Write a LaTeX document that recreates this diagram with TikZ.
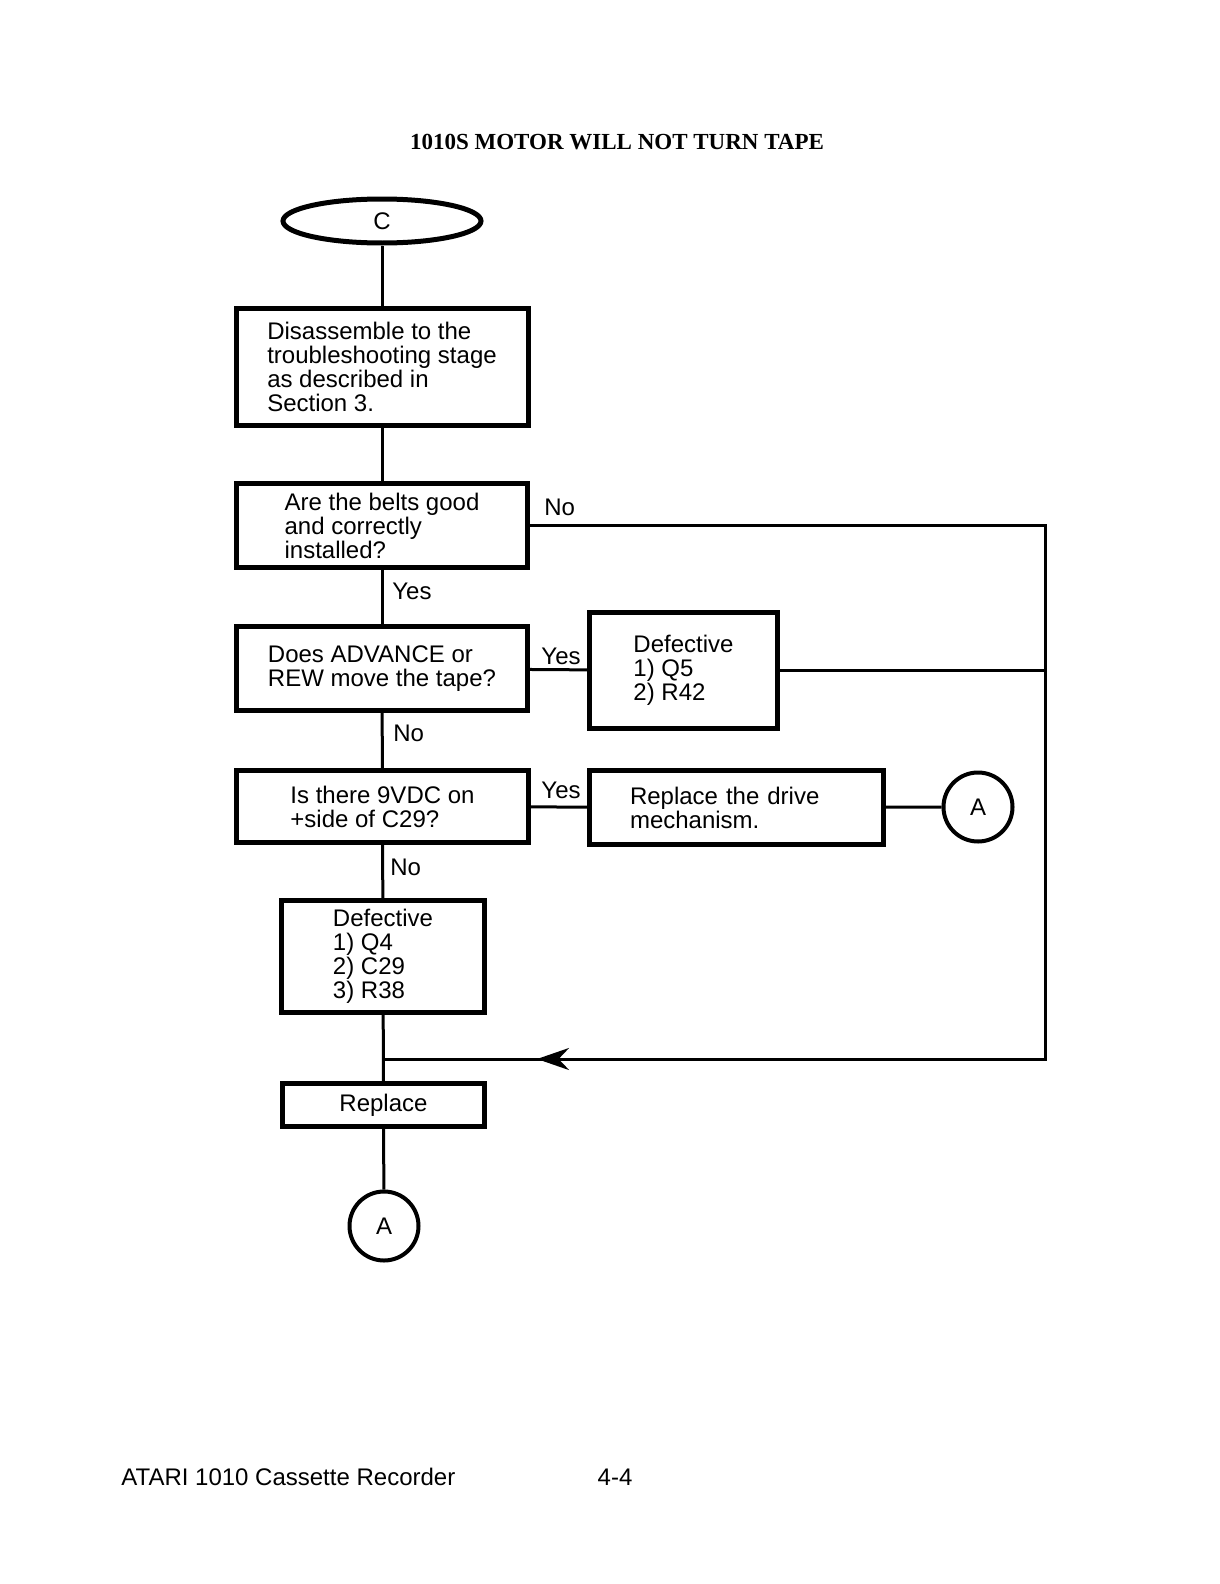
\documentclass[tikz,border=0pt]{standalone}
\usepackage{fontspec}
\setmainfont{Liberation Sans}
\newfontfamily\titlefont{Liberation Serif}
\usetikzlibrary{shapes.geometric,arrows.meta}

\begin{document}
\begin{tikzpicture}[x=0.5pt,y=-0.5pt,font=\fontsize{12}{12}\selectfont]

      \useasboundingbox (0,0) rectangle (1220,1584);

      \node (title) at (617,142) {\titlefont\bfseries\fontsize{11.5}{12}\selectfont 1010S MOTOR WILL NOT TURN TAPE};

      \begin{scope}[every node/.style={draw, line width=2.5pt, align=left, inner sep=0pt}]
        \node[ellipse, minimum width=99pt, minimum height=22pt] (0) at (382,221) {C};
        \node[minimum width=146pt, minimum height=58.5pt] (1) at (382,367) {Disassemble to the\\troubleshooting stage\\as described in\\Section 3.};
        \node[minimum width=145.5pt, minimum height=42pt] (2) at (382,525.5) {Are the belts good\\and correctly\\installed?};
        \node[minimum width=145.5pt, minimum height=42pt] (3) at (382,668.5) {Does ADVANCE or\\REW move the tape?};
        \node[minimum width=94pt, minimum height=58pt] (4) at (683.5,670.5) {Defective\\1) Q5\\2) R42};
        \node[minimum width=146pt, minimum height=36pt] (5) at (382.5,806.5) {Is there 9VDC on\\+side of C29?};
        \node[minimum width=147pt, minimum height=37pt, text width=106.5pt] (6) at (736.5,807.5) {Replace the drive\\mechanism.};
        \node[circle, line width=2pt, minimum size=34.5pt] (7) at (978,807) {A};
        \node[minimum width=101.5pt, minimum height=56pt] (8) at (383,956.5) {Defective\\1) Q4\\2) C29\\3) R38};
        \node[minimum width=101pt, minimum height=21.5pt] (9) at (383.5,1105) {Replace};
        \node[circle, line width=2pt, minimum size=34.5pt] (10) at (384,1226) {A};
      \end{scope}

      \coordinate (rc) at (1045,1059);
      \coordinate (jn) at (383,1059);
      \coordinate (tip) at (537,1059);

      \begin{scope}[line width=1.5pt]
        \path (0)  edge (1);
        \path (1)  edge (2);
        \path (2)  edge (3);
        \path (3)  edge (4);
        \path (3)  edge (5);
        \path (5)  edge (6);
        \path (6)  edge (7);
        \path (5)  edge (8);
        \path (8)  edge (9);
        \path (9)  edge (10);
        \draw (2.east) -| (rc) -- (jn);
        \draw (4.east) -- (4.east -| rc);
        \draw[-{Stealth[length=16pt, width=11pt]}] (rc) -- (tip);
      \end{scope}

      \node[anchor=west, inner sep=0pt] (no1)  at (544,507) {No};
      \node[anchor=west, inner sep=0pt] (yes1) at (392,591) {Yes};
      \node[inner sep=0pt]              (yes2) at (561,656) {Yes};
      \node[anchor=west, inner sep=0pt] (no2)  at (393,733) {No};
      \node[inner sep=0pt]              (yes3) at (561,790) {Yes};
      \node[anchor=west, inner sep=0pt] (no3)  at (390,867) {No};

      \node[anchor=west, inner sep=0pt] (foot) at (121,1477) {ATARI 1010 Cassette Recorder};
      \node[inner sep=0pt] (page) at (615,1477) {4-4};

    \end{tikzpicture}
\end{document}
